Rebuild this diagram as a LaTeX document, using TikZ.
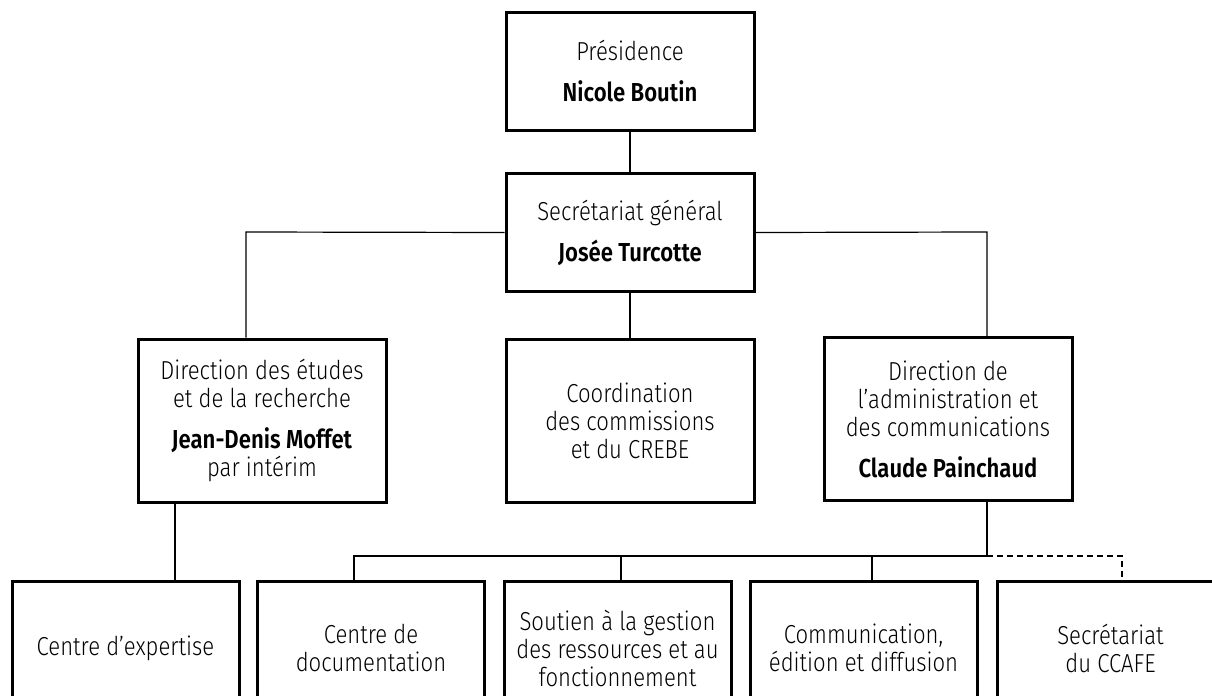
\documentclass[tikz,border=0pt]{standalone}
\usepackage{fontspec}
\IfFontExistsTF{Fira Sans Light}{%
  \IfFontExistsTF{Fira Sans SemiBold}{%
    \setmainfont[BoldFont={Fira Sans SemiBold},FakeStretch=0.85]{Fira Sans Light}}{%
    \setmainfont[FakeStretch=0.85]{Fira Sans Light}}}{%
  \setmainfont[FakeStretch=0.85]{Fira Sans}}
\begin{document}
\begin{tikzpicture}[x=0.5pt,y=-0.5pt,
  box/.style={draw, line width=1.5pt, align=center, inner sep=0pt,
    font=\fontsize{13}{14}\selectfont, text=black},
  topbox/.style={box, minimum width=124pt, minimum height=59pt},
  midbox/.style={box, minimum width=124pt, minimum height=81.5pt},
  lowbox/.style={box, minimum width=113.5pt, minimum height=67pt},
  conn/.style={line width=0.6pt}]
\useasboundingbox (0,0) rectangle (1212,696);
\clip (0,0) rectangle (1212,696);

\node[topbox] (pres) at (630,71) {Présidence\\[6.5pt]\textbf{Nicole Boutin}};
\node[topbox] (sec) at (630,232.5) {Secrétariat général\\[6.5pt]\textbf{Josée Turcotte}};
\node[midbox] (dir1) at (262,420.5) {Direction des études\\et de la recherche\\[6.5pt]\textbf{Jean-Denis Moffet}\\par intérim};
\node[midbox] (coord) at (630,420.5) {Coordination\\des commissions\\et du CREBE};
\node[midbox] (dir2) at (948,419) {Direction de\\l’administration et\\des communications\\[6.5pt]\textbf{Claude Painchaud}};

\node[lowbox] (b1) at (125.5,648) {Centre d’expertise};
\node[lowbox] (b2) at (371,648) {Centre de\\documentation};
\node[lowbox] (b3) at (617.5,648) {Soutien à la gestion\\des ressources et au\\fonctionnement};
\node[lowbox] (b4) at (863.5,648) {Communication,\\édition et diffusion};
\node[lowbox] (b5) at (1110.5,648) {Secrétariat\\du CCAFE};

\coordinate (jl) at (246,232);
\coordinate (jr) at (987,232);
\coordinate (d1) at (175,503);
\coordinate (bus) at (987,556);
\coordinate (t2) at (354,556);
\coordinate (t3) at (621,556);
\coordinate (t4) at (872,556);
\coordinate (t5) at (1122,556);
\coordinate (t5e) at (1122,577);

\draw[conn] (pres.south) -- (sec.north);
\draw[conn] (sec.west) -- (jl) -- (jl |- dir1.north);
\draw[conn] (sec.east) -- (jr) -- (jr |- dir2.north);
\draw[conn] (sec.south) -- (coord.north);
\draw[conn] (d1 |- dir1.south) -- (d1 |- b1.north);
\draw[conn] (bus |- dir2.south) -- (bus) -- (t2) -- (t2 |- b2.north);
\draw[conn] (t3) -- (t3 |- b3.north);
\draw[conn] (t4) -- (t4 |- b4.north);
\draw[conn, dash pattern=on 3pt off 2pt] (bus) -- (t5) -- (t5e);
\end{tikzpicture}
\end{document}
